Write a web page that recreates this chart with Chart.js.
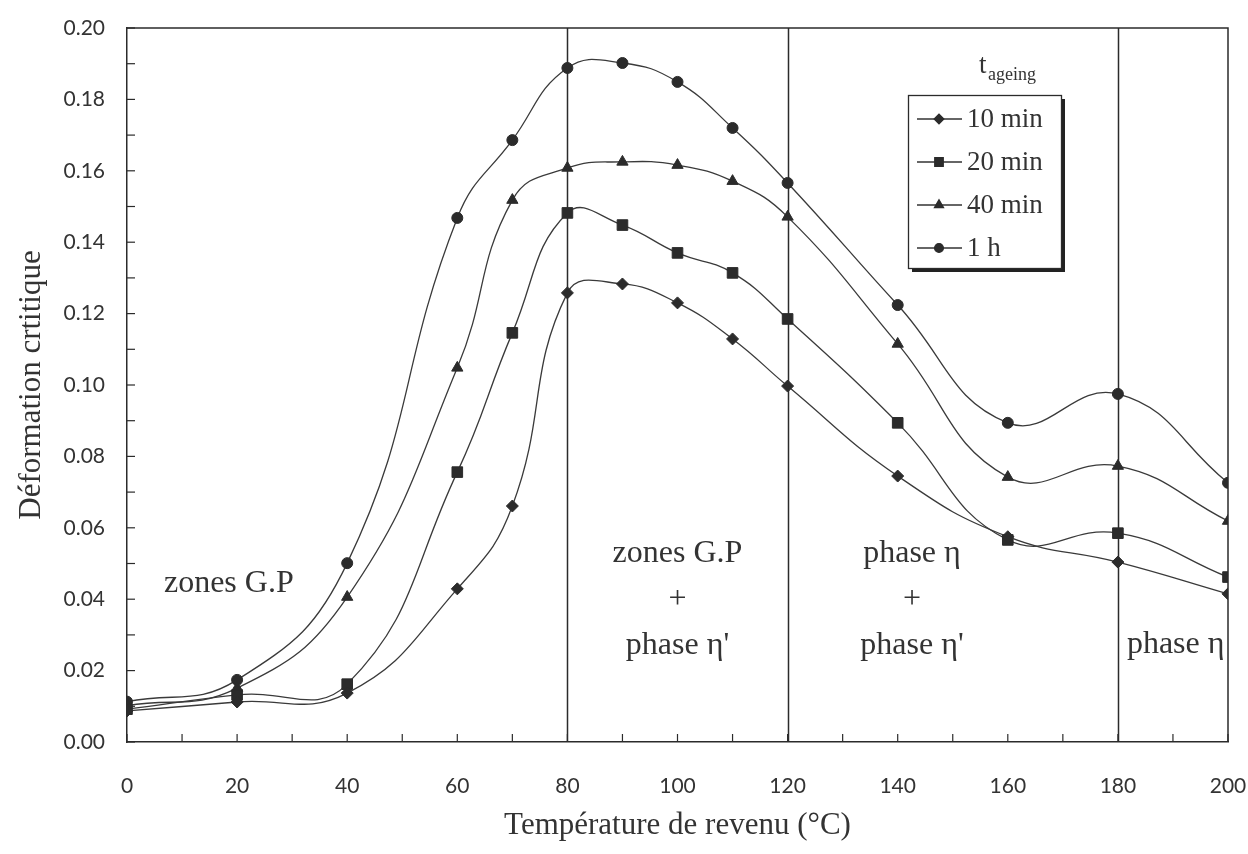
<!DOCTYPE html>
<html>
<head>
<meta charset="utf-8">
<script src="https://cdn.jsdelivr.net/npm/chart.js@4/dist/chart.umd.min.js"></script>
<style>
  html, body { margin: 0; padding: 0; background: #fff; }
  canvas { display: block; }
</style>
</head>
<body>
<canvas id="chart" width="1248" height="854"></canvas>
<script>
// temperatures (°C) and critical strain per ageing time
const temps = [0, 20, 40, 60, 70, 80, 90, 100, 110, 120, 140, 160, 180, 200];
const min10 = [0.0087, 0.0112, 0.0137, 0.0429, 0.0661, 0.1258, 0.1283, 0.1230, 0.1129, 0.0997, 0.0745, 0.0575, 0.0504, 0.0415];
const min20 = [0.0092, 0.0132, 0.0162, 0.0756, 0.1146, 0.1482, 0.1448, 0.1370, 0.1314, 0.1185, 0.0894, 0.0566, 0.0585, 0.0462];
const min40 = [0.0102, 0.0151, 0.0406, 0.1048, 0.1518, 0.1608, 0.1625, 0.1616, 0.1571, 0.1471, 0.1115, 0.0742, 0.0773, 0.0619];
const h1    = [0.0113, 0.0174, 0.0501, 0.1468, 0.1686, 0.1888, 0.1902, 0.1849, 0.1720, 0.1566, 0.1224, 0.0894, 0.0975, 0.0726];

const seriesNames = ['10 min', '20 min', '40 min', '1 h'];
const xTickValues = [0, 20, 40, 60, 80, 100, 120, 140, 160, 180, 200];
const yTickValues = [0, 0.02, 0.04, 0.06, 0.08, 0.10, 0.12, 0.14, 0.16, 0.18, 0.20];
const zoneLimits = [80, 120, 180];

const INK = '#2b2b2b';
const SERIF = '"Liberation Serif", "DejaVu Serif", serif';
const SANS = 'Lato, "Open Sans", sans-serif';

const styles = [
  { pointStyle: 'rectRot', radius: 6 },
  { pointStyle: 'rect', radius: 7.5 },
  { pointStyle: 'triangle', radius: 6.5 },
  { pointStyle: 'circle', radius: 5.5 }
];

function makeSet(label, values, st) {
  return {
    label: label,
    data: temps.map((t, i) => ({ x: t, y: values[i] })),
    borderColor: '#3a3a3a',
    borderWidth: 1.3,
    backgroundColor: INK,
    pointBackgroundColor: INK,
    pointBorderColor: INK,
    pointBorderWidth: 1,
    pointStyle: st.pointStyle,
    pointRadius: st.radius,
    tension: 0.45,
    fill: false
  };
}

// frame, zone separators, inward ticks, zone texts and the boxed legend
const decor = {
  id: 'decor',
  beforeDatasetsDraw(chart) {
    const { ctx, chartArea: a, scales: { x } } = chart;
    ctx.save();
    ctx.strokeStyle = INK;
    ctx.lineWidth = 1.5;
    zoneLimits.forEach(v => {
      const px = Math.round(x.getPixelForValue(v)) + 0.5;
      ctx.beginPath();
      ctx.moveTo(px, a.top);
      ctx.lineTo(px, a.bottom);
      ctx.stroke();
    });
    // top and right frame
    ctx.beginPath();
    ctx.moveTo(a.left, a.top);
    ctx.lineTo(a.right, a.top);
    ctx.lineTo(a.right, a.bottom);
    ctx.stroke();
    // inward tick marks (major + minor)
    ctx.lineWidth = 1.2;
    for (let v = 0; v <= 200; v += 10) {
      const px = x.getPixelForValue(v);
      ctx.beginPath();
      ctx.moveTo(px, a.bottom);
      ctx.lineTo(px, a.bottom - 8);
      ctx.stroke();
    }
    const y = chart.scales.y;
    for (let k = 0; k <= 20; k++) {
      const py = y.getPixelForValue(k / 100);
      ctx.beginPath();
      ctx.moveTo(a.left, py);
      ctx.lineTo(a.left + 8, py);
      ctx.stroke();
    }
    ctx.restore();
  },
  afterDraw(chart) {
    const { ctx, scales: { x, y } } = chart;
    ctx.save();
    ctx.fillStyle = '#333';
    ctx.textAlign = 'center';
    ctx.textBaseline = 'middle';
    ctx.font = '32px ' + SERIF;
    const notes = [
      { x: 18.5, y: 0.0445, lines: ['zones G.P'] },
      { x: 100, y: 0.0529, lines: ['zones G.P', '+', "phase \u03B7'"] },
      { x: 142.6, y: 0.0529, lines: ['phase \u03B7', '+', "phase \u03B7'"] },
      { x: 190.5, y: 0.0272, lines: ['phase \u03B7'] }
    ];
    notes.forEach(n => {
      const px = x.getPixelForValue(n.x);
      const py = y.getPixelForValue(n.y);
      n.lines.forEach((s, i) => ctx.fillText(s, px, py + i * 46));
    });

    // legend box with drop shadow
    const bx = 908, by = 95, bw = 153, bh = 173;
    ctx.fillStyle = '#222';
    ctx.fillRect(bx + 4, by + 4, bw, bh);
    ctx.fillStyle = '#fff';
    ctx.fillRect(bx, by, bw, bh);
    ctx.strokeStyle = INK;
    ctx.lineWidth = 1.3;
    ctx.strokeRect(bx + 0.5, by + 0.5, bw, bh);

    const rows = [119, 162, 205, 248];
    chart.data.datasets.forEach((ds, i) => {
      const ry = rows[i];
      ctx.strokeStyle = '#333';
      ctx.lineWidth = 1.3;
      ctx.beginPath();
      ctx.moveTo(917, ry);
      ctx.lineTo(962, ry);
      ctx.stroke();
      ctx.fillStyle = INK;
      ctx.strokeStyle = INK;
      Chart.helpers.drawPoint(ctx, { pointStyle: ds.pointStyle, radius: ds.pointRadius * 0.8, borderWidth: 1, rotation: 0 }, 939, ry);
      ctx.fillStyle = '#333';
      ctx.textAlign = 'left';
      ctx.font = '27px ' + SERIF;
      ctx.fillText(ds.label, 967, ry + 1);
    });

    // legend title t_ageing
    ctx.textAlign = 'left';
    ctx.textBaseline = 'alphabetic';
    ctx.font = '27px ' + SERIF;
    ctx.fillText('t', 979, 73);
    ctx.font = '18px ' + SERIF;
    ctx.fillText('ageing', 988, 80);
    ctx.restore();
  }
};

new Chart(document.getElementById('chart'), {
  type: 'line',
  data: {
    datasets: [
      makeSet(seriesNames[0], min10, styles[0]),
      makeSet(seriesNames[1], min20, styles[1]),
      makeSet(seriesNames[2], min40, styles[2]),
      makeSet(seriesNames[3], h1, styles[3])
    ]
  },
  options: {
    responsive: false,
    animation: false,
    devicePixelRatio: 1,
    layout: { padding: { top: 28, right: 20, left: 0, bottom: 0 } },
    plugins: {
      legend: { display: false },
      tooltip: { enabled: false }
    },
    scales: {
      x: {
        type: 'linear',
        min: 0,
        max: 200,
        afterBuildTicks: s => { s.ticks = xTickValues.map(v => ({ value: v })); },
        afterFit: s => { s.height = 112; s.paddingLeft = 0; s.paddingRight = 0; },
        grid: { display: false, drawTicks: false },
        border: { display: true, color: INK, width: 1.5 },
        ticks: {
          color: '#333',
          padding: 32,
          maxRotation: 0,
          autoSkip: false,
          font: { family: SANS, size: 21 },
          callback: v => String(v)
        },
        title: {
          display: true,
          text: 'Température de revenu (°C)',
          color: '#333',
          font: { family: SERIF, size: 31 },
          padding: { top: 0, bottom: 10 }
        }
      },
      y: {
        min: 0,
        max: 0.2,
        afterBuildTicks: s => { s.ticks = yTickValues.map(v => ({ value: v })); },
        afterFit: s => { s.width = 127; s.paddingTop = 0; s.paddingBottom = 0; },
        grid: { display: false, drawTicks: false },
        border: { display: true, color: INK, width: 1.5 },
        ticks: {
          color: '#333',
          padding: 22,
          autoSkip: false,
          font: { family: SANS, size: 21 },
          callback: v => Number(v).toFixed(2)
        },
        title: {
          display: true,
          text: 'Déformation crtitique',
          color: '#333',
          font: { family: SERIF, size: 31 },
          padding: { top: 13, bottom: 0 }
        }
      }
    }
  },
  plugins: [decor]
});
</script>
</body>
</html>
